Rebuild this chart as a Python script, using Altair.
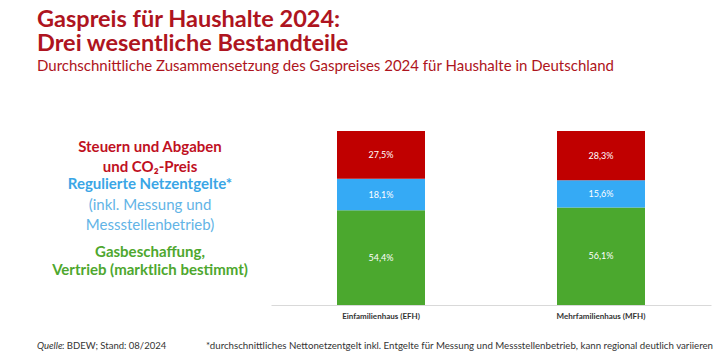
import altair as alt
import pandas as pd

categories = ["Einfamilienhaus (EFH)", "Mehrfamilienhaus (MFH)"]
components = ["Gasbeschaffung", "Netzentgelte", "Steuern"]
efh_values = [54.4, 18.1, 27.5]
mfh_values = [56.1, 15.6, 28.3]
comp_colors = ["#4BA82E", "#35AAF5", "#C00000"]

rows = []
for cat, vals in zip(categories, [efh_values, mfh_values]):
    for i, (comp, v) in enumerate(zip(components, vals)):
        rows.append({"cat": cat, "comp": comp, "value": v, "ord": i})
df = pd.DataFrame(rows)

FONT = "Lato"
OX, OY = 271, 131  # plot origin in page pixels


def label(txt, x, y, size, color, weight="normal", align="left",
          baseline="middle", style="normal"):
    return alt.Chart(alt.Data(values=[{}])).mark_text(
        text=txt, font=FONT, fontSize=size, color=color, fontWeight=weight,
        align=align, baseline=baseline, fontStyle=style
    ).encode(x=alt.value(x - OX), y=alt.value(y - OY))


base = alt.Chart(df).transform_stack(
    stack="value", groupby=["cat"], as_=["y0", "y1"], sort=[alt.SortField("ord")]
).transform_calculate(
    mid="(datum.y0 + datum.y1) / 2",
    lab="replace(format(datum.value, '.1f'), '.', ',') + '%'"
)

x_enc = alt.X("cat:N", sort=categories,
              scale=alt.Scale(paddingInner=0, paddingOuter=0),
              axis=alt.Axis(title=None, ticks=False, labelAngle=0, labelFont=FONT,
                            labelFontSize=8, labelFontWeight="bold",
                            labelColor="#333333", labelPadding=7,
                            domainColor="#D9D9D9", domainWidth=1, grid=False))

bars = base.mark_bar(size=88).encode(
    x=x_enc,
    y=alt.Y("y0:Q", scale=alt.Scale(domain=[0, 100]), axis=None),
    y2="y1:Q",
    color=alt.Color("comp:N", scale=alt.Scale(domain=components, range=comp_colors),
                    legend=None),
)

vals = base.mark_text(font=FONT, fontSize=9, color="white").encode(
    x=alt.X("cat:N", sort=categories),
    y=alt.Y("mid:Q"),
    text="lab:N",
)

TITLE_RED = "#AE1420"
texts = [
    label("Gaspreis für Haushalte 2024:", 37, 27, 23.5, TITLE_RED, "bold", baseline="alphabetic"),
    label("Drei wesentliche Bestandteile", 37, 51, 23.5, TITLE_RED, "bold", baseline="alphabetic"),
    label("Durchschnittliche Zusammensetzung des Gaspreises 2024 für Haushalte  in Deutschland",
          37, 71, 15, TITLE_RED, baseline="alphabetic"),
    label("Steuern und Abgaben", 150, 147, 15, "#C0111F", "bold", align="center"),
    label("und CO₂-Preis", 150, 167, 15, "#C0111F", "bold", align="center"),
    label("Regulierte Netzentgelte*", 150, 184, 15, "#3AA6E6", "bold", align="center"),
    label("(inkl. Messung und", 150, 205, 15, "#62B4E6", align="center"),
    label("Messstellenbetrieb)", 150, 225, 15, "#62B4E6", align="center"),
    label("Gasbeschaffung,", 150, 252, 15, "#4EA72E", "bold", align="center"),
    label("Vertrieb (marktlich bestimmt)", 150, 270, 15, "#4EA72E", "bold", align="center"),
    label("Quelle", 37, 346, 9.5, "#333333", style="italic"),
    label(": BDEW; Stand: 08/2024", 62, 346, 9.5, "#333333"),
    label("*durchschnittliches Nettonetzentgelt inkl. Entgelte für Messung und Messstellenbetrieb, kann regional deutlich variieren",
          713, 346, 9.7, "#333333", align="right"),
]

chart = alt.layer(bars, vals, *texts).properties(
    width=440, height=174,
    padding={"left": OX, "top": OY, "right": 17, "bottom": 52},
    autosize=alt.AutoSizeParams(type="none"),
    background="white",
).configure_view(stroke=None)

chart.save("out.html", embed_options={"renderer": "svg", "actions": False})
